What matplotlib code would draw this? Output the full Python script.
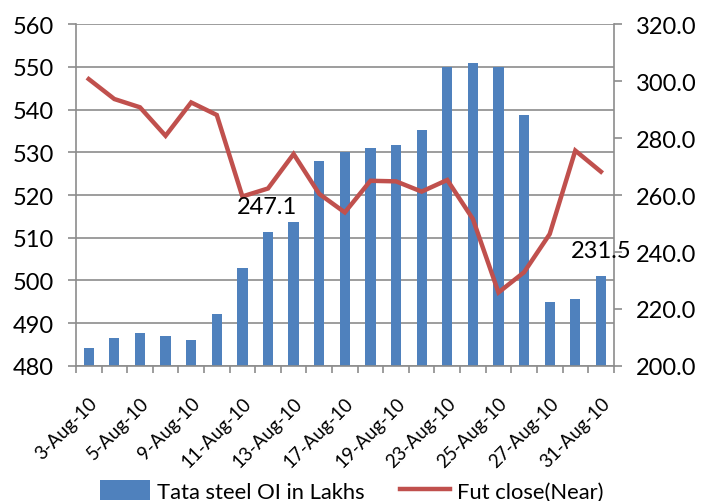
import matplotlib
matplotlib.use("Agg")
import matplotlib.pyplot as plt
import numpy as np

plt.rcParams['font.family'] = ['Lato', 'DejaVu Sans']

dates = ['3-Aug-10', '4-Aug-10', '5-Aug-10', '6-Aug-10', '9-Aug-10', '10-Aug-10',
         '11-Aug-10', '12-Aug-10', '13-Aug-10', '16-Aug-10', '17-Aug-10', '18-Aug-10',
         '19-Aug-10', '20-Aug-10', '23-Aug-10', '24-Aug-10', '25-Aug-10', '26-Aug-10',
         '27-Aug-10', '30-Aug-10', '31-Aug-10']
oi = [484.1, 486.6, 487.6, 487.0, 486.0, 492.1, 502.9, 511.3, 513.8, 527.9, 530.0,
      530.9, 531.8, 535.2, 549.9, 551.0, 549.9, 538.8, 495.0, 495.7, 501.0]
fut = [300.7, 293.7, 290.8, 280.8, 292.5, 288.1, 259.5, 262.3, 274.4, 260.4, 253.9,
       265.0, 264.8, 261.2, 265.3, 251.6, 225.8, 232.9, 246.3, 275.6, 268.2]

grid_col = '#8c8c8c'

fig = plt.figure(figsize=(7.03, 5.02), dpi=100)
ax = fig.add_axes([0.108, 0.269, 0.765, 0.681])
x = np.arange(len(dates))
bars = ax.bar(x, oi, width=0.4, color='#4F81BD', label='Tata steel OI in Lakhs', zorder=2)
ax.set_ylim(480, 560)
ax.set_xlim(-0.5, len(dates) - 0.5)
ax.set_yticks(np.arange(480, 561, 10))
ax.yaxis.grid(True, color=grid_col, linewidth=1.2, zorder=0)
ax.set_axisbelow(True)

# tick marks at category boundaries, labels at every other category
ax.set_xticks(np.arange(-0.5, len(dates), 1.0))
ax.set_xticklabels([])
ax.set_xticks(x[::2], minor=True)
ax.set_xticklabels(dates[::2], minor=True, rotation=45, ha='right',
                   rotation_mode='anchor', fontsize=13.5)
ax.tick_params(axis='x', which='major', length=5, color=grid_col, width=1.2)
ax.tick_params(axis='x', which='minor', length=0, pad=20)
ax.tick_params(axis='y', length=6, color=grid_col, width=1.2, labelsize=17, pad=10)

for s in ['top', 'right']:
    ax.spines[s].set_visible(False)
for s in ['left', 'bottom']:
    ax.spines[s].set_color(grid_col)
    ax.spines[s].set_linewidth(1.2)

ax2 = ax.twinx()
line, = ax2.plot(x, fut, color='#C0504D', linewidth=3.2, label='Fut close(Near)',
                 solid_joinstyle='miter', zorder=3)
ax2.set_ylim(200, 320)
ax2.set_yticks(np.arange(200, 321, 20))
ax2.set_yticklabels(['%.1f' % v for v in np.arange(200, 321, 20)])
ax2.tick_params(axis='y', length=6, color=grid_col, width=1.2, labelsize=17, pad=10)
for s in ['top', 'left', 'bottom']:
    ax2.spines[s].set_visible(False)
ax2.spines['right'].set_color(grid_col)
ax2.spines['right'].set_linewidth(1.2)

ax2.text(6.97, 256.0, '247.1', fontsize=17, ha='center', va='center')
ax2.text(20.0, 240.4, '231.5', fontsize=17, ha='center', va='center')

fig.legend(handles=[bars, line], labels=['Tata steel OI in Lakhs', 'Fut close(Near)'],
           loc='center', bbox_to_anchor=(0.5, 0.02), ncol=2, frameon=False,
           fontsize=15.8, handlelength=2.3, handleheight=1.0, columnspacing=1.6,
           handletextpad=0.3, borderpad=0)

fig.savefig('out.png', dpi=100)
